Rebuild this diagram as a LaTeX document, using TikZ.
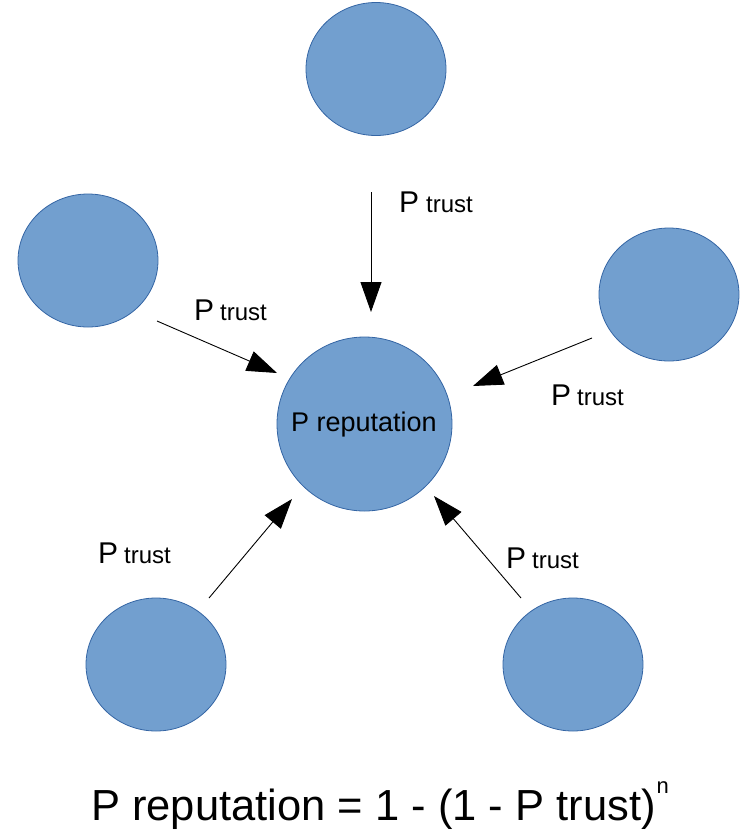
\documentclass[tikz,border=0pt]{standalone}
\usepackage{fontspec}
\setmainfont{Liberation Sans}
\usetikzlibrary{arrows.meta}
\definecolor{cfill}{HTML}{729FCF}
\definecolor{cline}{HTML}{3465A4}
\tikzset{
  peer/.style={ellipse, draw=cline, fill=cfill, line width=0.8pt, minimum width=140pt, minimum height=133pt, inner sep=0pt},
  link/.style={line width=0.9pt, -{Triangle[length=30pt,width=21pt]}},
  bigP/.style={anchor=base west, inner sep=0pt, font=\fontsize{30}{36}\selectfont},
  smalltrust/.style={anchor=base west, inner sep=0pt, font=\fontsize{24}{28}\selectfont},
}
\usetikzlibrary{shapes.geometric}
\begin{document}
\begin{tikzpicture}[x=1pt,y=-1pt]
\useasboundingbox (0,0) rectangle (753,831);
\node[peer] (top) at (376,69) {};
\node[peer] (left) at (88,260.5) {};
\node[peer] (right) at (669,294.5) {};
\node[peer] (bl) at (156,664.5) {};
\node[peer] (br) at (573,664.5) {};
\node[ellipse, draw=cline, fill=cfill, line width=0.8pt, minimum width=175pt, minimum height=174pt, inner sep=0pt] (center) at (364.5,424) {};
\node[anchor=base, inner sep=0pt, font=\fontsize{27}{32}\selectfont] (clabel) at (364,431) {P reputation};

\coordinate (s1) at (371,192); \coordinate (e1) at (371,312);
\coordinate (s2) at (157,321); \coordinate (e2) at (277,373);
\coordinate (s3) at (592,338); \coordinate (e3) at (473,386);
\coordinate (s4) at (209,598); \coordinate (e4) at (292,499);
\coordinate (s5) at (521,598); \coordinate (e5) at (434,496);
\draw[link] (s1) -- (e1);
\draw[link] (s2) -- (e2);
\draw[link] (s3) -- (e3);
\draw[link] (s4) -- (e4);
\draw[link] (s5) -- (e5);

\node[bigP] (p1) at (399,212) {P};
\node[smalltrust] (t1) at (426,212) {trust};
\node[bigP] (p2) at (194,320) {P};
\node[smalltrust] (t2) at (220,320) {trust};
\node[bigP] (p3) at (551,405) {P};
\node[smalltrust] (t3) at (577,405) {trust};
\node[bigP] (p4) at (98,563) {P};
\node[smalltrust] (t4) at (124,563) {trust};
\node[bigP] (p5) at (506,568) {P};
\node[smalltrust] (t5) at (532,568) {trust};

\node[anchor=base west, inner sep=0pt, font=\fontsize{43.5}{50}\selectfont] (formula) at (91,820) {P reputation = 1 - (1 - P trust)\kern1pt\raisebox{0.6em}{\fontsize{22}{26}\selectfont n}};
\end{tikzpicture}
\end{document}
